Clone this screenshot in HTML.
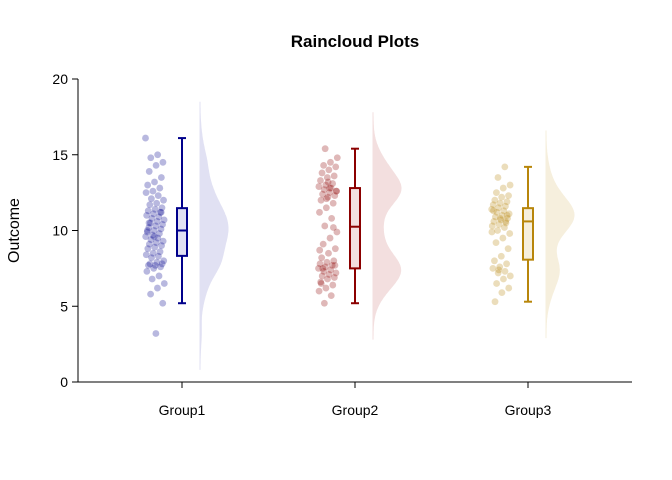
<!DOCTYPE html>
<html><head><meta charset="utf-8"><style>
body{margin:0;background:#fff;}
svg{display:block;font-family:"Liberation Sans",Arial,sans-serif;}
</style></head><body>
<svg id="chart" width="672" height="480">
<text x="355" y="47" text-anchor="middle" font-size="17" font-weight="bold">Raincloud Plots</text>
<text transform="translate(19,230.5) rotate(-90)" text-anchor="middle" font-size="16">Outcome</text>
<g id="plot"></g>
</svg>
<script>
const groups = ["Group1","Group2","Group3"];
const g1 = [16.1,15.0,14.8,14.5,14.3,13.9,13.5,13.2,13.0,12.8,12.6,12.5,12.3,12.1,12.0,11.8,11.7,11.5,11.4,11.3,11.2,11.1,11.0,10.9,10.8,10.7,10.6,10.5,10.4,10.3,10.2,10.1,10.0,9.9,9.8,9.7,9.6,9.5,9.4,9.3,9.2,9.1,9.0,8.9,8.8,8.6,8.5,8.4,8.3,8.2,8.0,7.9,7.8,7.8,7.7,7.7,7.6,7.5,7.3,7.0,6.8,6.5,6.2,5.8,5.2,3.2,10.5,11.2,9.6,10.0];
const g2 = [15.4,14.8,14.5,14.3,14.2,14.0,13.8,13.6,13.5,13.3,13.1,13.0,12.9,12.8,12.7,12.6,12.5,12.4,12.3,12.2,12.0,11.8,11.5,11.2,10.8,10.3,9.9,9.5,9.1,8.8,8.5,8.2,8.0,7.9,7.8,7.7,7.6,7.5,7.4,7.3,7.2,7.1,7.0,6.9,6.8,6.6,6.4,6.2,6.0,5.7,5.2,12.6,12.8,7.5,7.7,13.2,6.5,10.2,12.1,8.7];
const g3 = [14.2,13.5,13.0,12.8,12.5,12.3,12.2,12.0,11.9,11.8,11.7,11.6,11.5,11.4,11.3,11.2,11.1,11.0,10.9,10.8,10.7,10.6,10.5,10.4,10.3,10.2,10.0,9.8,9.5,9.2,8.8,8.3,8.0,7.8,7.6,7.5,7.3,7.2,7.0,6.8,6.5,6.2,5.9,5.3,11.0,10.8,11.3,10.6,7.4,9.9];
const yTicks = [0,5,10,15,20];
const series = [g1,g2,g3];
const colors = ["#00008B","#8B0000","#B8860B"];
const fills = ["#e1e1f3","#f3dfdf","#f6efdd"];

const NS="http://www.w3.org/2000/svg";
const plot=document.getElementById('plot');
const y=v=>382-v*15.15;
const xc=i=>182+i*173;
function mk(tag,attrs){const e=document.createElementNS(NS,tag);for(const k in attrs)e.setAttribute(k,attrs[k]);plot.appendChild(e);return e;}

let e=mk('line',{x1:78,y1:79,x2:78,y2:382,stroke:'#000'});


e=mk('line',{x1:78,y1:382,x2:632,y2:382,stroke:'#000'});


yTicks.forEach(t=>{
  let l=mk('line',{x1:72,x2:78,y1:y(t),y2:y(t),stroke:'#000'});
  
  
  let tx=mk('text',{x:68,y:y(t)+5,'text-anchor':'end','font-size':14});
  tx.textContent=t;
  
  
});
groups.forEach((g,i)=>{
  let l=mk('line',{x1:xc(i),x2:xc(i),y1:382,y2:388,stroke:'#000'});
  
  
  let tx=mk('text',{x:xc(i),y:415,'text-anchor':'middle','font-size':14});
  tx.textContent=g;
  
  
});

function q(s,p){const a=[...s].sort((a,b)=>a-b);const h=(a.length-1)*p;const lo=Math.floor(h);return a[lo]+(a[Math.min(lo+1,a.length-1)]-a[lo])*(h-lo);}

series.forEach((d,i)=>{
  const c=colors[i], cx=xc(i);
  const bw=0.8, mn=Math.min(...d)-3*bw, mx=Math.max(...d)+3*bw;
  const pts=[];let mxd=0;
  for(let k=0;k<=200;k++){const v=mn+(mx-mn)*k/200;let s=0;d.forEach(x=>{s+=Math.exp(-0.5*((v-x)/bw)**2);});pts.push([v,s]);if(s>mxd)mxd=s;}
  const x0=cx+18;
  let path='M'+x0+','+y(mn);
  pts.forEach(p=>{path+=' L'+(x0+p[1]/mxd*28).toFixed(1)+','+y(p[0]).toFixed(1);});
  path+=' L'+x0+','+y(mx)+'Z';
  let v=mk('path',{d:path,fill:fills[i],stroke:fills[i]});
  
  
  d.forEach((val,k)=>{
    const j=(((k*7919+i*131)%97)/97*2-1)*9.5;
    let p=mk('circle',{cx:cx-27+j,cy:y(val),r:3.4,fill:c,'fill-opacity':0.28});
    
    
  });
  const q1=q(d,.25),md=q(d,.5),q3=q(d,.75),iqr=q3-q1;
  const lo=Math.min(...d.filter(x=>x>=q1-1.5*iqr)),hi=Math.max(...d.filter(x=>x<=q3+1.5*iqr));
  let bg=mk('g',{stroke:c,'stroke-width':2,fill:'none'});
  
  
  const add=(t,a)=>{const el=document.createElementNS(NS,t);for(const k in a)el.setAttribute(k,a[k]);bg.appendChild(el);};
  add('line',{x1:cx,x2:cx,y1:y(hi),y2:y(q3)});
  add('line',{x1:cx,x2:cx,y1:y(q1),y2:y(lo)});
  add('line',{x1:cx-4,x2:cx+4,y1:y(hi),y2:y(hi)});
  add('line',{x1:cx-4,x2:cx+4,y1:y(lo),y2:y(lo)});
  add('rect',{x:cx-5,y:y(q3),width:10,height:y(q1)-y(q3),fill:fills[i]});
  add('line',{x1:cx-5,x2:cx+5,y1:y(md),y2:y(md)});
});
</script>
</body></html>
